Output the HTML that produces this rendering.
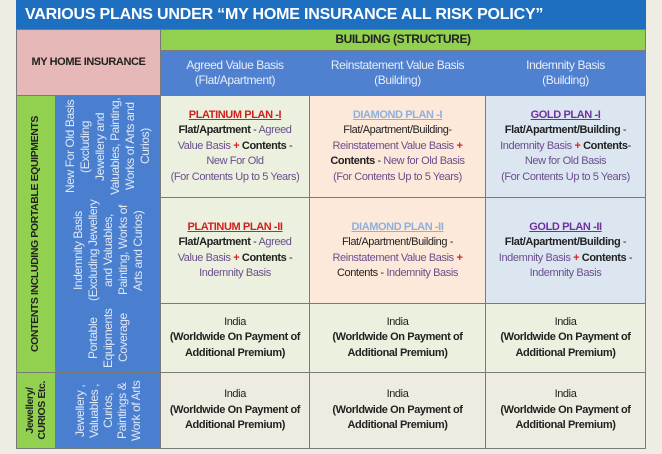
<!DOCTYPE html>
<html><head><meta charset="utf-8"><style>
*{margin:0;padding:0;box-sizing:border-box}
body{width:662px;height:454px;background:#efece4;position:relative;overflow:hidden;font-family:"Liberation Sans",sans-serif}
.c{position:absolute;display:flex;align-items:center;justify-content:center;text-align:center;border:1px solid #7a7a7a;font-size:11px;line-height:15.5px;letter-spacing:-0.4px;color:#222}
.v{writing-mode:vertical-rl;transform:rotate(180deg)}
.b{font-weight:bold}
.p{color:#6a4d8c}
.r{color:#e02020;font-weight:bold}
.w{color:#fff}
</style></head><body>
<div class="c b w" style="left:16px;top:0;width:630px;height:30px;background:#1f6fc0;font-size:16px;justify-content:flex-start;padding-left:8px;letter-spacing:-0.2px;border-color:#1f6fc0">VARIOUS PLANS UNDER “MY HOME INSURANCE ALL RISK POLICY”</div>
<div class="c b" style="left:16px;top:29px;width:145px;height:67px;background:#e6b8b7;font-size:11px">MY HOME INSURANCE</div>
<div class="c b" style="left:160px;top:29px;width:486px;height:22px;background:#92d050;font-size:12px">BUILDING (STRUCTURE)</div>
<div class="c w" style="left:160px;top:50px;width:150px;height:46px;background:#4f81d0;font-size:12px;color:#e8eef8">Agreed Value Basis<br>(Flat/Apartment)</div>
<div class="c w" style="left:309px;top:50px;width:177px;height:46px;background:#4f81d0;font-size:12px;color:#e8eef8">Reinstatement Value Basis<br>(Building)</div>
<div class="c w" style="left:485px;top:50px;width:161px;height:46px;background:#4f81d0;font-size:12px;color:#e8eef8">Indemnity Basis<br>(Building)</div>

<div class="c b" style="left:16px;top:95px;width:40px;height:278px;background:#92d050;font-size:10.5px"><span class="v">CONTENTS INCLUDING PORTABLE EQUIPMENTS</span></div>
<div class="c b" style="left:16px;top:372px;width:40px;height:77px;background:#92d050;font-size:10.5px;line-height:12px"><span class="v">Jewellery/<br>CURIOS Etc.</span></div>

<div class="c w" style="left:55px;top:95px;width:106px;height:103px;background:#4a7fd0;font-size:12px;line-height:15px;color:#dfe8f6"><span class="v">New For Old Basis (Excluding Jewellery and Valuables, Painting, Works of Arts and Curios)</span></div>
<div class="c w" style="left:55px;top:197px;width:106px;height:107px;background:#4a7fd0;font-size:12px;line-height:15px;color:#dfe8f6"><span class="v">Indemnity Basis (Excluding Jewellery and Valuables, Painting, Works of Arts and Curios)</span></div>
<div class="c w" style="left:55px;top:303px;width:106px;height:70px;background:#4a7fd0;font-size:12px;line-height:15px;color:#dfe8f6"><span class="v">Portable Equipments Coverage</span></div>
<div class="c w" style="left:55px;top:372px;width:106px;height:77px;background:#4a7fd0;font-size:12px;line-height:14px;color:#dfe8f6"><span class="v">Jewellery , Valuables , Curios, Paintings &amp; Work of Arts</span></div>

<div class="c" style="left:160px;top:95px;width:150px;height:103px;background:#ebf1de"><div><span class="b" style="color:#d02020;text-decoration:underline">PLATINUM PLAN -I</span><br><span class="b">Flat/Apartment</span> - <span class="p">Agreed<br>Value Basis</span> <span class="r">+</span> <span class="b">Contents</span> -<br><span class="p">New For Old</span><br><span class="p">(For Contents Up to 5 Years)</span></div></div>
<div class="c" style="left:309px;top:95px;width:177px;height:103px;background:#fde9d9"><div><span class="b" style="color:#8fb0dc;text-decoration:underline">DIAMOND PLAN -I</span><br>Flat/Apartment/Building-<br><span class="p">Reinstatement Value Basis</span> <span class="r">+</span><br><span class="b">Contents</span> - <span class="p">New for Old Basis</span><br><span class="p">(For Contents Up to 5 Years)</span></div></div>
<div class="c" style="left:485px;top:95px;width:161px;height:103px;background:#dce6f1"><div><span class="b" style="color:#7030a0;text-decoration:underline">GOLD PLAN -I</span><br><span class="b">Flat/Apartment/Building</span> -<br><span class="p">Indemnity Basis</span> <span class="r">+</span> <span class="b">Contents</span>-<br><span class="p">New for Old Basis</span><br><span class="p">(For Contents Up to 5 Years)</span></div></div>

<div class="c" style="left:160px;top:197px;width:150px;height:107px;background:#ebf1de"><div><span class="b" style="color:#d02020;text-decoration:underline">PLATINUM PLAN -II</span><br><span class="b">Flat/Apartment</span> - <span class="p">Agreed<br>Value Basis</span> <span class="r">+</span> <span class="b">Contents</span> -<br><span class="p">Indemnity Basis</span></div></div>
<div class="c" style="left:309px;top:197px;width:177px;height:107px;background:#fde9d9"><div><span class="b" style="color:#8fb0dc;text-decoration:underline">DIAMOND PLAN -II</span><br>Flat/Apartment/Building -<br><span class="p">Reinstatement Value Basis</span> <span class="r">+</span><br>Contents - <span class="p">Indemnity Basis</span></div></div>
<div class="c" style="left:485px;top:197px;width:161px;height:107px;background:#dce6f1"><div><span class="b" style="color:#7030a0;text-decoration:underline">GOLD PLAN -II</span><br><span class="b">Flat/Apartment/Building</span> -<br><span class="p">Indemnity Basis</span> <span class="r">+</span> <span class="b">Contents</span> -<br><span class="p">Indemnity Basis</span></div></div>

<div class="c" style="left:160px;top:303px;width:150px;height:70px;background:#ebf1de"><div>India<br><span class="b">(Worldwide On Payment of<br>Additional Premium)</span></div></div>
<div class="c" style="left:309px;top:303px;width:177px;height:70px;background:#ebf1de"><div>India<br><span class="b">(Worldwide On Payment of<br>Additional Premium)</span></div></div>
<div class="c" style="left:485px;top:303px;width:161px;height:70px;background:#ebf1de"><div>India<br><span class="b">(Worldwide On Payment of<br>Additional Premium)</span></div></div>

<div class="c" style="left:160px;top:372px;width:150px;height:77px;background:#eeece1"><div>India<br><span class="b">(Worldwide On Payment of<br>Additional Premium)</span></div></div>
<div class="c" style="left:309px;top:372px;width:177px;height:77px;background:#eeece1"><div>India<br><span class="b">(Worldwide On Payment of<br>Additional Premium)</span></div></div>
<div class="c" style="left:485px;top:372px;width:161px;height:77px;background:#eeece1"><div>India<br><span class="b">(Worldwide On Payment of<br>Additional Premium)</span></div></div>
</body></html>
